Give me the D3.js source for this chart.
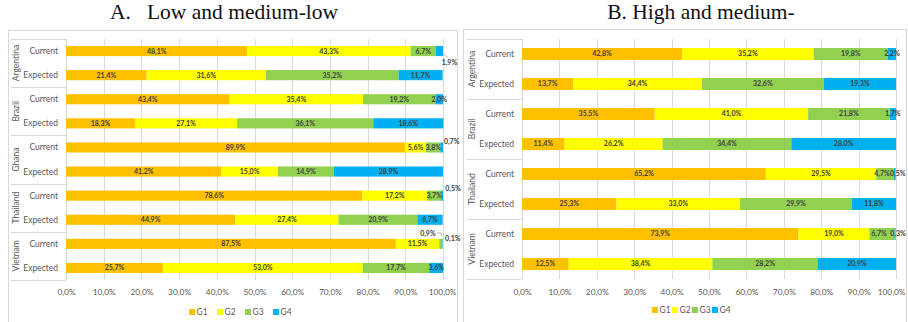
<!DOCTYPE html>
<html>
<head>
<meta charset="utf-8">
<script src="https://cdn.jsdelivr.net/npm/d3@7/dist/d3.min.js"></script>
<style>
  html, body { margin: 0; padding: 0; background: #fff; }
  svg { display: block; }
</style>
</head>
<body>
<svg id="chart" width="908" height="322"></svg>
<script>
// ---- data -------------------------------------------------------------
const groups = ["G1", "G2", "G3", "G4"];
const scenarios = ["Current", "Expected"];
const tickValues = [0, 0.1, 0.2, 0.3, 0.4, 0.5, 0.6, 0.7, 0.8, 0.9, 1.0];

// Panel A: low and medium-low
const countriesA = ["Argentina", "Brazil", "Ghana", "Thailand", "Vietnam"];
// one entry per row, ordered country by country, Current then Expected
const g1A = [48.1, 21.4, 43.4, 18.3, 89.9, 41.2, 78.6, 44.9, 87.5, 25.7];
const g2A = [43.3, 31.6, 35.4, 27.1,  5.6, 15.0, 17.2, 27.4, 11.5, 53.0];
const g3A = [ 6.7, 35.2, 19.2, 36.1,  3.8, 14.9,  3.7, 20.9,  0.9, 17.7];
const g4A = [ 1.9, 11.7,  2.0, 18.6,  0.7, 28.9,  0.5,  6.7,  0.1,  3.6];

// Panel B: high and medium-high
const countriesB = ["Argentina", "Brazil", "Thailand", "Vietnam"];
const g1B = [42.8, 13.7, 35.5, 11.4, 65.2, 25.3, 73.9, 12.5];
const g2B = [35.2, 34.4, 41.0, 26.2, 29.5, 33.0, 19.0, 38.4];
const g3B = [19.8, 32.6, 21.8, 34.4,  4.7, 29.9,  6.7, 28.2];
const g4B = [ 2.2, 19.3,  1.7, 28.0,  0.5, 11.8,  0.3, 20.9];

// ---- styling ----------------------------------------------------------
const colors = { G1: "#FFC000", G2: "#FFFF00", G3: "#92D050", G4: "#00B0F0" };
const gridColor = "#d9d9d9";
const textGray = "#595959";
const labelFont = "Lato, 'Open Sans', sans-serif";
const fmt = v => v.toFixed(1).replace(".", ",") + "%";

const svg = d3.select("#chart");

function buildRows(countries, s1, s2, s3, s4) {
  const series = [s1, s2, s3, s4];
  const rows = [];
  countries.forEach((c, ci) => {
    scenarios.forEach((s, si) => {
      const i = ci * 2 + si;
      const row = { key: c + "|" + s, country: c, scenario: s };
      groups.forEach((g, gi) => { row[g] = series[gi][i]; });
      rows.push(row);
    });
  });
  return rows;
}

function drawPanel(p) {
  const g = svg.append("g");
  const rows = buildRows(p.countries, ...p.series);

  // frame
  g.append("rect")
    .attr("x", p.box[0] + 0.5).attr("y", p.box[1] + 0.5)
    .attr("width", p.box[2]).attr("height", p.box[3])
    .attr("fill", "none").attr("stroke", gridColor).attr("stroke-width", 1);

  // title
  g.append("text")
    .attr("x", p.titleX).attr("y", 19)
    .attr("text-anchor", "middle")
    .style("white-space", "pre")
    .attr("font-family", "'Liberation Serif', 'Times New Roman', serif")
    .attr("font-size", 21.5)
    .attr("fill", "#111")
    .text(p.title);

  const x = d3.scaleLinear().domain([0, 1]).range([p.x0, p.x1]);
  const y = d3.scaleBand()
    .domain(rows.map(r => r.key))
    .range([p.yTop, p.yBottom])
    .paddingInner(p.padInner)
    .paddingOuter(p.padInner / 2);

  // vertical gridlines
  g.append("g").selectAll("line").data(tickValues).join("line")
    .attr("x1", d => Math.round(x(d)) + 0.5).attr("x2", d => Math.round(x(d)) + 0.5)
    .attr("y1", p.yTop).attr("y2", p.yBottom)
    .attr("stroke", gridColor).attr("stroke-width", 1);

  // x axis tick labels
  const xAxis = d3.axisBottom(x).tickValues(tickValues).tickSize(0).tickPadding(0)
    .tickFormat(d => fmt(d * 100));
  const ax = g.append("g").attr("transform", `translate(0,${p.tickY})`).call(xAxis);
  ax.select(".domain").remove();
  const rightLimit = p.box[0] + p.box[2] - 1;
  ax.selectAll("text")
    .attr("dy", "0.35em").attr("y", 0)
    .attr("font-family", labelFont).attr("font-size", 8.3).attr("fill", textGray)
    .each(function (d) {
      // keep the last label inside the frame
      const w = this.getComputedTextLength();
      const over = x(d) + w / 2 - rightLimit;
      if (over > 0) d3.select(this).attr("x", -over);
    });

  // category axis: scenario labels
  g.append("g").selectAll("text").data(rows).join("text")
    .attr("x", p.x0 - 8)
    .attr("y", d => y(d.key) + y.bandwidth() / 2)
    .attr("dy", "0.35em")
    .attr("text-anchor", "end")
    .attr("font-family", labelFont).attr("font-size", 8.5).attr("fill", textGray)
    .text(d => d.scenario);

  // category axis: country group separators and labels
  const step = y.step();
  const groupTop = c => y(c + "|" + scenarios[0]) - step * p.padInner / 2;
  const bounds = p.countries.map(groupTop).concat([p.yBottom]);
  g.append("g").selectAll("line").data(bounds).join("line")
    .attr("x1", p.sepX).attr("x2", p.x0)
    .attr("y1", d => Math.round(d) + 0.5).attr("y2", d => Math.round(d) + 0.5)
    .attr("stroke", gridColor).attr("stroke-width", 1);
  g.append("line")
    .attr("x1", Math.round(p.x0) + 0.5).attr("x2", Math.round(p.x0) + 0.5)
    .attr("y1", p.yTop).attr("y2", p.yBottom)
    .attr("stroke", gridColor);

  g.append("g").selectAll("text").data(p.countries).join("text")
    .attr("transform", c => `translate(${p.countryX},${groupTop(c) + step}) rotate(-90)`)
    .attr("dy", "0.35em")
    .attr("text-anchor", "middle")
    .attr("font-family", labelFont).attr("font-size", 8.5).attr("fill", textGray)
    .text(c => c);

  // stacked bars
  const stacked = d3.stack().keys(groups)(rows.map(r => {
    const o = { key: r.key };
    groups.forEach(k => o[k] = r[k] / 100);
    return o;
  }));

  const layers = g.append("g").selectAll("g").data(stacked).join("g")
    .attr("fill", d => colors[d.key]);
  layers.selectAll("rect").data(d => d).join("rect")
    .attr("x", d => x(d[0]))
    .attr("y", d => y(d.data.key))
    .attr("width", d => Math.max(0, x(d[1]) - x(d[0])))
    .attr("height", y.bandwidth());

  // value labels
  const labels = [];
  stacked.forEach(layer => {
    layer.forEach((d, i) => {
      const value = rows[i][layer.key];
      const co = p.callouts.find(c => c.row === i && c.group === layer.key);
      const cx = x((d[0] + d[1]) / 2);
      const cy = y(d.data.key) + y.bandwidth() / 2;
      labels.push({ value, cx, cy, co });
    });
  });

  const lg = g.append("g");
  labels.forEach(l => {
    let tx = l.cx, ty = l.cy;
    if (l.co) {
      tx = l.cx + l.co.dx;
      ty = l.cy + l.co.dy;
      if (l.co.leader) {
        lg.append("path")
          .attr("d", l.co.leader(l.cx, l.cy, tx, ty))
          .attr("fill", "none").attr("stroke", "#a6a6a6").attr("stroke-width", 0.8);
      }
    }
    lg.append("text")
      .attr("x", tx).attr("y", ty).attr("dy", "0.35em")
      .attr("text-anchor", "middle")
      .attr("font-family", labelFont).attr("font-weight", "bold")
      .attr("font-size", 7).attr("fill", "#404040")
      .text(fmt(l.value));
  });

  // legend
  const leg = g.append("g").attr("transform", `translate(${p.legendX},${p.legendY})`);
  const items = leg.selectAll("g").data(groups).join("g")
    .attr("transform", (d, i) => `translate(${i * p.legendStep},0)`);
  items.append("rect").attr("x", 0).attr("y", -3).attr("width", 6).attr("height", 6)
    .attr("fill", d => colors[d]);
  items.append("text").attr("x", 7.5).attr("y", 0).attr("dy", "0.35em")
    .attr("font-family", labelFont).attr("font-size", 8.5).attr("fill", textGray)
    .text(d => d);
}

// Panel A
drawPanel({
  title: "A.   Low and medium-low",
  titleX: 224,
  box: [8, 30, 449, 292],
  countries: countriesA,
  series: [g1A, g2A, g3A, g4A],
  x0: 66, x1: 443,
  yTop: 39, yBottom: 280,
  padInner: 0.58,
  sepX: 11, countryX: 16,
  tickY: 292,
  legendX: 189, legendY: 312, legendStep: 28,
  callouts: [
    { row: 0, group: "G4", dx: 10, dy: 11,
      leader: (x0, y0, x1, y1) => `M${x0 + 2},${y0 + 1}L${x1 - 1},${y1 - 4}` },
    { row: 4, group: "G4", dx: 10, dy: -6 },
    { row: 6, group: "G4", dx: 11, dy: -7 },
    { row: 8, group: "G3", dx: -13, dy: -10,
      leader: (x0, y0, x1, y1) => `M${x1 + 9},${y1 - 1}L${x1 + 13},${y1 - 1}L${x1 + 14},${y1 + 2}` },
    { row: 8, group: "G4", dx: 10, dy: -5 }
  ]
});

// Panel B
drawPanel({
  title: "B. High and medium-",
  titleX: 701,
  box: [463, 29, 443, 293],
  countries: countriesB,
  series: [g1B, g2B, g3B, g4B],
  x0: 522, x1: 896,
  yTop: 39, yBottom: 279,
  padInner: 0.6,
  sepX: 467, countryX: 472,
  tickY: 292,
  legendX: 652, legendY: 310, legendStep: 20,
  callouts: [
    { row: 4, group: "G3", dx: -3, dy: 0 },
    { row: 4, group: "G4", dx: 3, dy: 0 },
    { row: 6, group: "G3", dx: -3, dy: 0 },
    { row: 6, group: "G4", dx: 3, dy: 0 }
  ]
});
</script>
</body>
</html>
